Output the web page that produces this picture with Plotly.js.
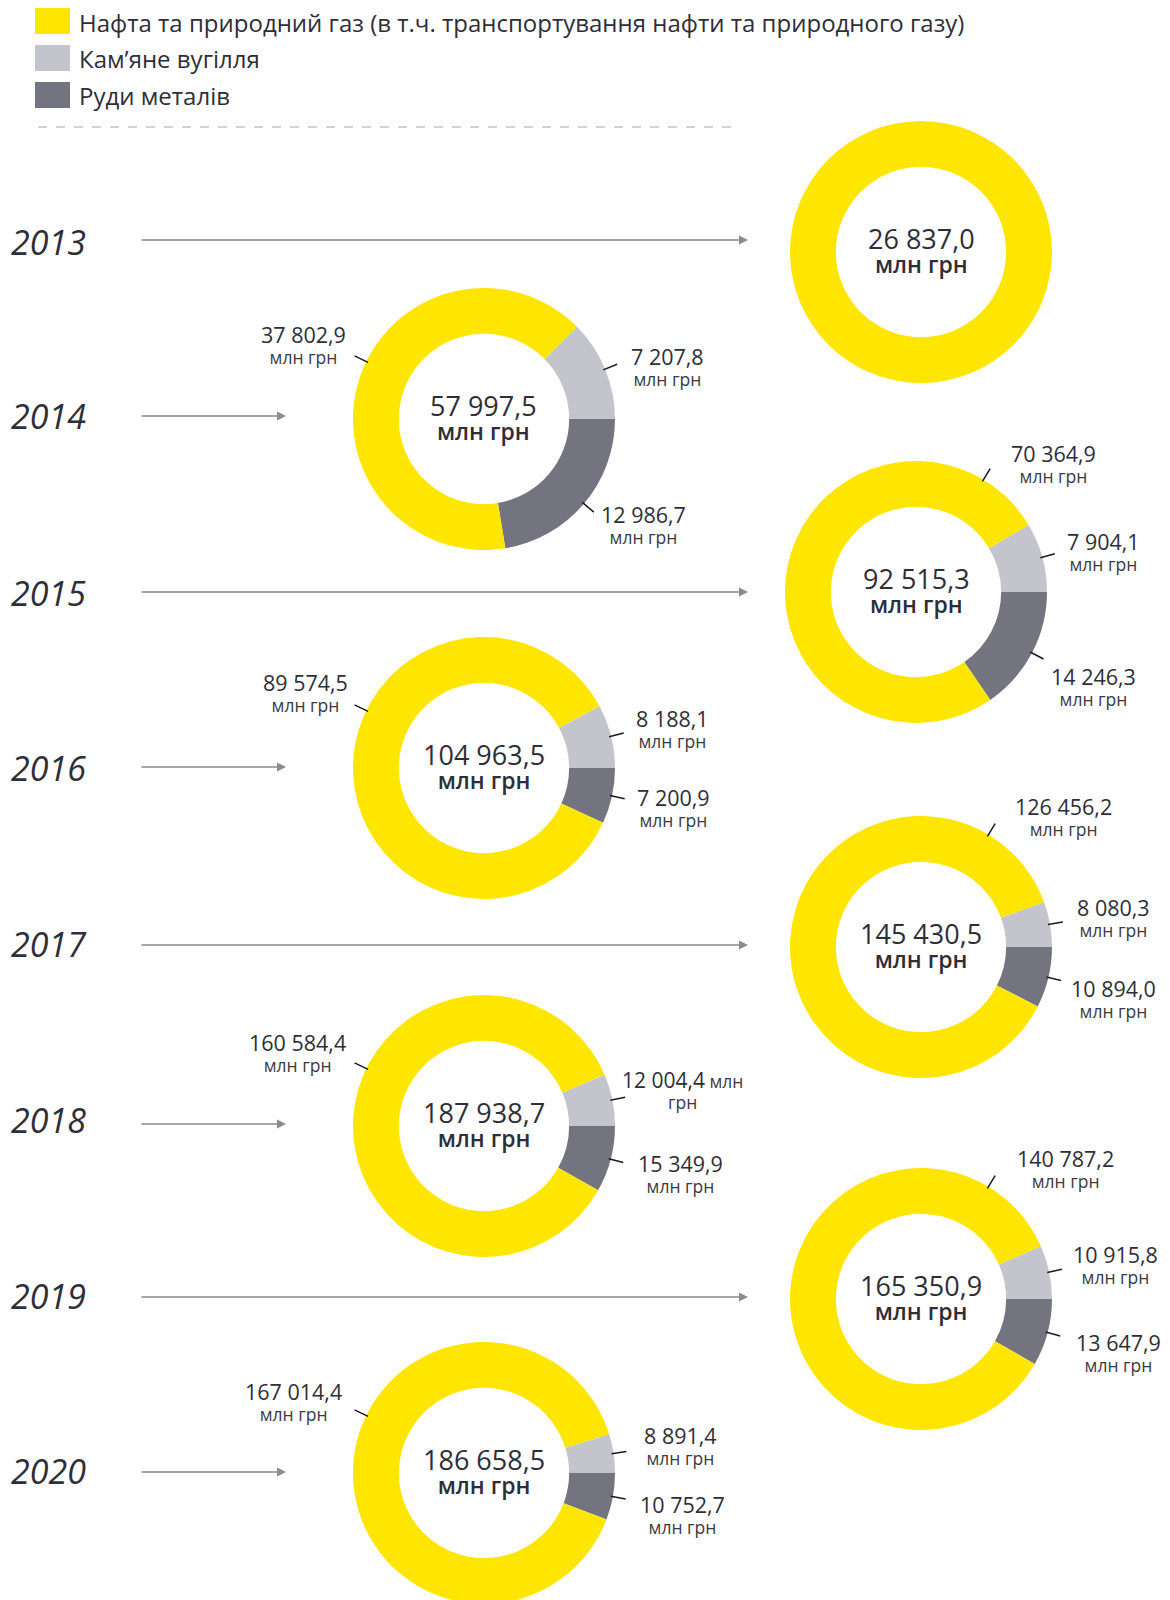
<!DOCTYPE html>
<html>
<head>
<meta charset="utf-8">
<script src="https://cdn.plot.ly/plotly-3.0.1.min.js"></script>
<style>
html, body { margin: 0; padding: 0; overflow: hidden; background: #fff; }
#chart { width: 1170px; height: 1610px; }
</style>
</head>
<body>
<div id="chart"></div>
<script>
// ---- data ----
var years = ['2013', '2014', '2015', '2016', '2017', '2018', '2019', '2020'];
var oilGas = [26837.0, 37802.9, 70364.9, 89574.5, 126456.2, 160584.4, 140787.2, 167014.4];
var coal = [0, 7207.8, 7904.1, 8188.1, 8080.3, 12004.4, 10915.8, 8891.4];
var ores = [0, 12986.7, 14246.3, 7200.9, 10894.0, 15349.9, 13647.9, 10752.7];
var totals = [26837.0, 57997.5, 92515.3, 104963.5, 145430.5, 187938.7, 165350.9, 186658.5];
var seriesNames = ['Нафта та природний газ (в т.ч. транспортування нафти та природного газу)', 'Кам’яне вугілля', 'Руди металів'];
var unitLabel = 'млн грн';

// ---- layout helpers ----
var W = 1170, H = 1610;
var COLORS = ['#FFE600', '#C4C4CD', '#747480'];
var TEXT = '#2E2E38';
var FONT = 'Open Sans, Noto Sans, sans-serif';
var R = 131;
function X(px) { return px / W; }
function Y(py) { return 1 - py / H; }
function fmt(v) {
  var s = v.toFixed(1).split('.');
  var i = s[0].replace(/\B(?=(\d{3})+(?!\d))/g, ' ');
  return i + ',' + s[1];
}

// pie centres (px) and label offsets (px, relative to centre) [yellow, grey, dark]
var centres = [[921, 252], [484, 419], [916, 592], [484, 768], [921, 947], [484, 1126], [921, 1299], [484, 1473]];
var labelOff = [
  null,
  [[-181, -84], [183, -62], [159, 96]],
  [[137, -138], [187, -50], [177, 85]],
  [[-179, -84], [188, -49], [189, 30]],
  [[142, -140], [192, -39], [192, 42]],
  [[-187, -83], [196, -45], [196, 38]],
  [[144, -140], [194, -44], [197, 44]],
  [[-191, -81], [196, -37], [198, 32]]
];
var yearY = [242, 416, 593, 768, 944, 1120, 1296, 1471];
var arrowY = [240, 416, 592, 767, 945, 1124, 1297, 1472];

var traces = [];
var annotations = [];
var shapes = [];

for (var k = 0; k < years.length; k++) {
  var cx = centres[k][0], cy = centres[k][1];
  traces.push({
    type: 'pie',
    values: [ores[k], oilGas[k], coal[k]],
    labels: [seriesNames[2], seriesNames[0], seriesNames[1]],
    marker: { colors: [COLORS[2], COLORS[0], COLORS[1]], line: { width: 0 } },
    hole: 0.65,
    sort: false,
    direction: 'clockwise',
    rotation: 90,
    textinfo: 'none',
    textposition: 'none',
    hoverinfo: 'label+value',
    showlegend: false,
    domain: { x: [X(cx - R), X(cx + R)], y: [Y(cy + R), Y(cy - R)] }
  });

  // centre text (one block: total + unit)
  annotations.push({ xref: 'paper', yref: 'paper', x: X(cx), y: Y(cy - 2),
    text: '<span style="font-size:27px">' + fmt(totals[k]) + '</span><br><span style="font-size:23px;font-weight:600">' + unitLabel + '</span>',
    showarrow: false, xanchor: 'center', yanchor: 'middle', align: 'center',
    font: { family: FONT, size: 18.8, color: TEXT } });

  // year label + arrow
  annotations.push({ xref: 'paper', yref: 'paper', x: X(9), y: Y(yearY[k]), text: years[k],
    showarrow: false, xanchor: 'left', yanchor: 'middle', font: { family: FONT, size: 34, color: TEXT, style: 'italic' } });
  var arrowEnd = (cx > 700) ? 748 : 286;
  annotations.push({ xref: 'paper', yref: 'paper', x: X(arrowEnd), y: Y(arrowY[k]), text: '',
    showarrow: true, ax: -(arrowEnd - 140), ay: 0, arrowhead: 2, arrowsize: 1.2, arrowwidth: 1.5, arrowcolor: '#8a8a8f' });

  if (!labelOff[k]) continue;
  var vals = [oilGas[k], coal[k], ores[k]];
  var tot = oilGas[k] + coal[k] + ores[k];
  var angles = [
    cx < 700 ? 154 : 59,
    (coal[k] / tot * 360) / 2,
    -(ores[k] / tot * 360) / 2
  ];
  for (var j = 0; j < 3; j++) {
    var off = labelOff[k][j];
    var a = angles[j] * Math.PI / 180;
    var x0 = cx + 129 * Math.cos(a), y0 = cy - 129 * Math.sin(a);
    var x1 = cx + 144 * Math.cos(a), y1 = cy - 144 * Math.sin(a);
    shapes.push({ type: 'line', xref: 'paper', yref: 'paper', x0: X(x0), y0: Y(y0), x1: X(x1), y1: Y(y1),
      line: { color: '#1a1a24', width: 1.5 } });
    var tx = cx + off[0], ty = cy + off[1];
    var txt;
    if (k === 5 && j === 1) {
      txt = '<span style="font-size:21px;color:#2E2E38">' + fmt(vals[j]) + '</span><span style="font-size:17.5px"> млн</span><br><span style="font-size:17.5px">грн</span>';
      tx += 2;
    } else {
      txt = '<span style="font-size:21.5px;color:#2E2E38">' + fmt(vals[j]) + '</span><br><span style="font-size:17.5px">' + unitLabel + '</span>';
    }
    annotations.push({ xref: 'paper', yref: 'paper', x: X(tx), y: Y(ty + 9), text: txt,
      showarrow: false, xanchor: 'center', yanchor: 'middle', align: 'center',
      font: { family: FONT, size: 16, color: '#3a3a44' } });
  }
}

// legend (drawn manually to keep the reference order)
var legY = [21, 58, 95];
for (var i = 0; i < 3; i++) {
  shapes.push({ type: 'rect', xref: 'paper', yref: 'paper', x0: X(35), x1: X(70), y0: Y(legY[i] - 13), y1: Y(legY[i] + 13),
    fillcolor: COLORS[i], line: { width: 0 } });
  annotations.push({ xref: 'paper', yref: 'paper', x: X(77), y: Y(legY[i] + 1), text: seriesNames[i],
    showarrow: false, xanchor: 'left', yanchor: 'middle', font: { family: FONT, size: 24, color: TEXT } });
}
// dashed separator
shapes.push({ type: 'line', xref: 'paper', yref: 'paper', x0: X(38), x1: X(735), y0: Y(127), y1: Y(127),
  line: { color: '#c4c4c8', width: 1.5, dash: 'dash' } });

var layout = {
  width: W, height: H,
  margin: { l: 0, r: 0, t: 0, b: 0 },
  paper_bgcolor: '#ffffff',
  plot_bgcolor: '#ffffff',
  showlegend: false,
  shapes: shapes,
  annotations: annotations
};

Plotly.newPlot('chart', traces, layout, { displayModeBar: false, staticPlot: true });
</script>
</body>
</html>
